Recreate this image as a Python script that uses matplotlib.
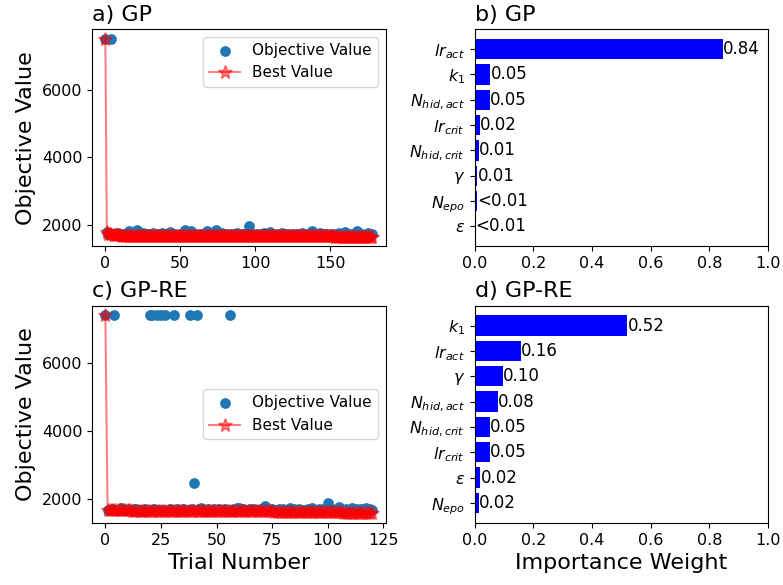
import numpy as np
import matplotlib
matplotlib.use("Agg")
import matplotlib.pyplot as plt

# Objective value of every trial, GP search
gp_values = [
    7500, 1770, 1735, 1712, 7500, 1698, 1721, 1690, 1745, 1683,
    1702, 1665, 1730, 1718, 1668, 1755, 1800, 1709, 1688, 1741,
    1695, 1830, 1672, 1716, 1684, 1760, 1701, 1666, 1725, 1693,
    1711, 1680, 1748, 1699, 1670, 1722, 1687, 1705, 1765, 1678,
    1694, 1715, 1683, 1790, 1662, 1708, 1731, 1689, 1700, 1676,
    1724, 1693, 1711, 1830, 1681, 1697, 1742, 1820, 1686, 1660,
    1719, 1702, 1688, 1733, 1675, 1706, 1692, 1758, 1800, 1683,
    1714, 1697, 1679, 1726, 1850, 1690, 1705, 1671, 1738, 1694,
    1685, 1716, 1700, 1657, 1729, 1691, 1710, 1677, 1744, 1698,
    1682, 1721, 1695, 1706, 1673, 1735, 1950, 1688, 1712, 1680,
    1701, 1727, 1692, 1669, 1718, 1684, 1752, 1696, 1709, 1678,
    1780, 1693, 1714, 1687, 1654, 1724, 1699, 1681, 1740, 1690,
    1707, 1676, 1720, 1695, 1683, 1731, 1702, 1688, 1715, 1671,
    1698, 1736, 1685, 1710, 1692, 1650, 1723, 1704, 1810, 1689,
    1717, 1681, 1700, 1745, 1694, 1679, 1711, 1686, 1728, 1697,
    1673, 1708, 1691, 1645, 1719, 1684, 1737, 1699, 1682, 1713,
    1770, 1690, 1705, 1678, 1726, 1693, 1711, 1685, 1800, 1698,
    1680, 1716, 1692, 1704, 1687, 1760, 1700, 1683, 1709,
]

# Objective value of every trial, GP-RE search
gpre_values = [
    7390, 1700, 1688, 1712, 7390, 1695, 1678, 1740, 1705, 1684,
    1721, 1690, 1676, 1708, 1730, 1683, 1698, 1669, 1715, 1692,
    7390, 7390, 1725, 7390, 1686, 7390, 1703, 7390, 1679, 1718,
    1694, 7390, 1710, 1671, 1688, 1732, 1699, 1682, 7390, 1706,
    2470, 7390, 1713, 1745, 1690, 1676, 1722, 1697, 1664, 1711,
    1686, 1728, 1701, 1680, 1716, 1693, 7390, 1673, 1707, 1760,
    1735, 1689, 1719, 1698, 1662, 1712, 1684, 1726, 1695, 1677,
    1709, 1691, 1805, 1703, 1681, 1720, 1640, 1697, 1714, 1687,
    1730, 1700, 1672, 1752, 1690, 1711, 1683, 1724, 1620, 1705,
    1693, 1718, 1679, 1737, 1698, 1686, 1715, 1670, 1708, 1742,
    1900, 1696, 1721, 1684, 1710, 1770, 1689, 1600, 1716, 1701,
    1687, 1760, 1694, 1713, 1680, 1706, 1726, 1750, 1692, 1710,
    1698,
]

# Hyperparameter importances (top to bottom)
gp_params = [r"$lr_{act}$", r"$k_1$", r"$N_{hid,act}$", r"$lr_{crit}$",
             r"$N_{hid,crit}$", r"$\gamma$", r"$N_{epo}$", r"$\varepsilon$"]
gp_importance = [0.845, 0.054, 0.051, 0.017, 0.0136, 0.010, 0.008, 0.003]

gpre_params = [r"$k_1$", r"$lr_{act}$", r"$\gamma$", r"$N_{hid,act}$",
               r"$N_{hid,crit}$", r"$lr_{crit}$", r"$\varepsilon$", r"$N_{epo}$"]
gpre_importance = [0.521, 0.159, 0.097, 0.081, 0.051, 0.051, 0.020, 0.016]

objective_ticks = [2000, 4000, 6000]

TICK_FS = 11.5
BAR_FS = 12
LEGEND_FS = 11
LABEL_FS = 16
TITLE_FS = 16


def history(ax, values, title, legend_loc, xlabel=None):
    trials = np.arange(len(values))
    best = np.minimum.accumulate(values)
    ax.scatter(trials, values, color="tab:blue", s=45, label="Objective Value", zorder=2)
    ax.plot(trials, best, color="red", marker="*", markersize=10, alpha=0.5,
            linewidth=1.5, label="Best Value", zorder=3)
    ax.set_yticks(objective_ticks)
    ax.set_ylabel("Objective Value", fontsize=LABEL_FS)
    if xlabel:
        ax.set_xlabel(xlabel, fontsize=LABEL_FS)
    ax.set_title(title, loc="left", fontsize=TITLE_FS)
    ax.tick_params(labelsize=TICK_FS)
    ax.legend(loc=legend_loc, fontsize=LEGEND_FS)


def importance(ax, params, weights, title, xlabel=None):
    pos = np.arange(len(params))
    ax.barh(pos, weights, height=0.8, color="blue")
    for p, w in zip(pos, weights):
        txt = "<0.01" if w < 0.01 else f"{w:.2f}"
        ax.text(w, p, txt, va="center", ha="left", fontsize=BAR_FS)
    ax.set_yticks(pos)
    ax.set_yticklabels(params)
    ax.invert_yaxis()
    ax.set_xlim(0, 1)
    ax.set_xticks(np.arange(0, 1.01, 0.2))
    ax.tick_params(labelsize=TICK_FS)
    ax.set_title(title, loc="left", fontsize=TITLE_FS)
    if xlabel:
        ax.set_xlabel(xlabel, fontsize=LABEL_FS)


fig, axes = plt.subplots(2, 2, figsize=(7.83, 5.85), dpi=100)
fig.subplots_adjust(left=0.1175, right=0.981, top=0.9504, bottom=0.106,
                    wspace=0.303, hspace=0.272)

history(axes[0, 0], gp_values, "a) GP", "upper right")
importance(axes[0, 1], gp_params, gp_importance, "b) GP")
history(axes[1, 0], gpre_values, "c) GP-RE", "center right", xlabel="Trial Number")
importance(axes[1, 1], gpre_params, gpre_importance, "d) GP-RE", xlabel="Importance Weight")

fig.savefig("out.png", dpi=100)
